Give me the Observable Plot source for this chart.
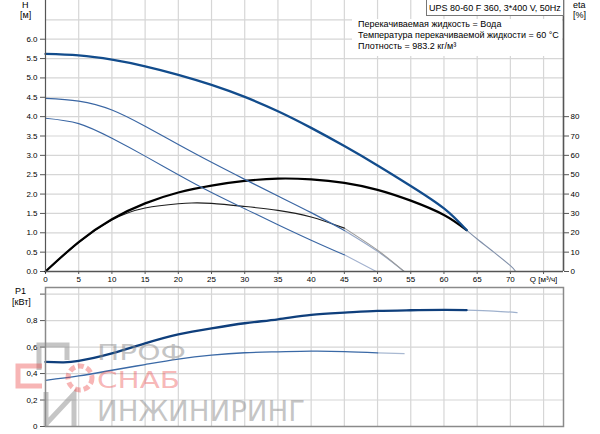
<!DOCTYPE html>
<html><head><meta charset="utf-8">
<script src="https://cdn.jsdelivr.net/npm/d3@7"></script>
<script src="https://cdn.jsdelivr.net/npm/@observablehq/plot@0.6"></script>
<style>
body{margin:0;background:#fff;font-family:"Liberation Sans",Arial,sans-serif;}
#wrap{position:relative;width:600px;height:434px;overflow:hidden;background:#fff}
#topc{position:absolute;left:0;top:0}
#botc{position:absolute;left:0;top:284px}
.lbl{position:absolute;font-size:9px;color:#000;line-height:11px;white-space:nowrap}
#title{position:absolute;left:426px;top:-1px;width:136px;height:15px;border:1px solid #777;background:#fff;font-size:9px;line-height:16px;text-align:center;white-space:nowrap}
#info{position:absolute;left:352px;top:19px;width:210px;height:37px;background:#fff;font-size:9px;line-height:11px;padding-left:6px;padding-top:0px;box-sizing:border-box;white-space:nowrap}
#wm{position:absolute;left:0;top:0;pointer-events:none}
</style></head><body><div id="wrap"><div id="topc"></div><div id="botc"></div></div>
<script>
// ---- data ----
const qTicks = [0,5,10,15,20,25,30,35,40,45,50,55,60,65,70,75];
const hTicks = [0,0.5,1,1.5,2,2.5,3,3.5,4,4.5,5,5.5,6];
const hGrid = [0.5,1,1.5,2,2.5,3,3.5,4,4.5,5,5.5,6,6.5];
const etaTicks = [0,10,20,30,40,50,60,70,80];
const pTicks = [0,0.2,0.4,0.6,0.8,1.0];

// H curves (Q in m3/h, H in m)
const q1 = [0,5,10,15,20,25,30,35,40,45,50,55,60,63.4];
const h1 = [5.62,5.58,5.47,5.30,5.08,4.82,4.51,4.14,3.71,3.24,2.74,2.21,1.63,1.07];
const q1x = [63.4,65,67.5,70,70.8];
const h1x = [1.07,0.84,0.50,0.15,0];
const q2 = [0,5,10,15,20,25,30,35,40,45];
const h2 = [4.47,4.40,4.17,3.75,3.28,2.82,2.38,1.95,1.52,1.06];
const q2x = [45,50,54];
const h2x = [1.06,0.52,0];
const q3 = [0,5,10,15,20,25,30,35,40,45];
const h3 = [3.96,3.82,3.44,2.98,2.50,2.04,1.62,1.21,0.81,0.43];
const q3x = [45,49.8];
const h3x = [0.43,0];

// efficiency curves (eta, %)
const qe1 = [0,5,10,15,20,25,30,35,40,45,50,55,60,63.4];
const e1 = [0,15.2,27,35.2,40.8,44.4,46.8,48,47.6,45.8,42.2,36.6,29.2,21.4];
const qe2 = [0,5,10,15,20,22,25,30,35,40,45];
const e2 = [0,15,26.6,32.8,35,35.4,35.2,33.6,31.6,28.2,22.4];
const qe2x = [45,50,54];
const e2x = [22.4,11,0];

// power curves (P1, kW)
const qp1 = [0,2.5,5,10,15,20,25,30,35,40,45,50,55,60,63.4];
const p1 = [0.488,0.485,0.495,0.552,0.628,0.696,0.742,0.780,0.810,0.843,0.860,0.873,0.878,0.881,0.879];
const qp1x = [63.4,67.5,71];
const p1x = [0.879,0.872,0.860];
const qp2 = [0,5,10,15,20,25,30,35,40,45,50];
const p2 = [0.349,0.382,0.425,0.468,0.509,0.539,0.557,0.564,0.569,0.566,0.556];
const qp2x = [50,54];
const p2x = [0.556,0.550];

const titleText = "UPS 80-60 F 360, 3*400 V, 50Hz";
const infoLines = ["Перекачиваемая жидкость = Вода","Температура перекачиваемой жидкости = 60 °C","Плотность = 983.2 кг/м³"];

// ---- build ----
const rows = (qs, vs, k=1) => qs.map((q,i)=>({q, v: vs[i]*k}));
const E = 1/20; // eta% -> H axis units
const font = "'Liberation Sans', Arial, sans-serif";
const axisCol = "#555";
const gridCol = "#d6d6d6";
const curve = "natural";

const topPlot = Plot.plot({
  width:600, height:284, marginLeft:45, marginRight:37, marginTop:0, marginBottom:13,
  style:{fontFamily:font, fontSize:"8px", color:"#000", background:"transparent", overflow:"visible"},
  x:{domain:[0,78]},
  y:{domain:[0,7]},
  marks:[
    Plot.gridX(qTicks.slice(1), {stroke:gridCol, strokeOpacity:1, strokeWidth:1.2}),
    Plot.gridY(hGrid, {stroke:gridCol, strokeOpacity:1, strokeWidth:1.2}),
    Plot.axisX(qTicks, {tickSize:3, tickPadding:2, stroke:axisCol, fill:"#000", tickFormat:d=> d===75 ? "Q [м³/ч]" : String(d), label:null}),
    Plot.axisY(hTicks, {tickSize:5, tickPadding:3, stroke:axisCol, fill:"#000", tickFormat:d3.format(".1f"), label:null}),
    Plot.axisY(etaTicks.map(e=>e*E), {anchor:"right", tickSize:5, tickPadding:2, stroke:axisCol, fill:"#000", tickFormat:d=>String(Math.round(d/E)), label:null}),
    // light continuations
    Plot.line(rows(q1x,h1x), {x:"q", y:"v", stroke:"#8190aa", strokeWidth:1.1, curve}),
    Plot.line(rows(q2x,h2x), {x:"q", y:"v", stroke:"#94a6c6", strokeWidth:1.1, curve}),
    Plot.line(rows(q3x,h3x), {x:"q", y:"v", stroke:"#a3b2cf", strokeWidth:1.1, curve}),
    Plot.line(rows(qe2x,e2x,E), {x:"q", y:"v", stroke:"#9a9a9a", strokeWidth:1.1, curve}),
    // eta curves
    Plot.line(rows(qe2,e2,E), {x:"q", y:"v", stroke:"#1e1e1e", strokeWidth:1.1, curve}),
    Plot.line(rows(qe1,e1,E), {x:"q", y:"v", stroke:"#000", strokeWidth:2.2, curve}),
    // H curves
    Plot.line(rows(q3,h3), {x:"q", y:"v", stroke:"#3a66a3", strokeWidth:1.1, curve}),
    Plot.line(rows(q2,h2), {x:"q", y:"v", stroke:"#3a66a3", strokeWidth:1.2, curve}),
    Plot.line(rows(q1,h1), {x:"q", y:"v", stroke:"#124c8c", strokeWidth:2.3, curve}),
    Plot.ruleY([0], {stroke:axisCol, strokeWidth:1.5}),
    Plot.ruleX([0], {stroke:axisCol, strokeWidth:1.2}),
    Plot.ruleX([78], {stroke:axisCol, strokeWidth:1.6})
  ]
});
document.getElementById("topc").appendChild(topPlot);

const botPlot = Plot.plot({
  width:600, height:150, marginLeft:45, marginRight:37, marginTop:3, marginBottom:8,
  style:{fontFamily:font, fontSize:"8px", color:"#000", background:"transparent", overflow:"visible"},
  x:{domain:[0,78], axis:null},
  y:{domain:[0,1.05]},
  marks:[
    Plot.gridX(qTicks.slice(1), {stroke:gridCol, strokeOpacity:1, strokeWidth:1.2}),
    Plot.gridY(pTicks.slice(1), {stroke:gridCol, strokeOpacity:1, strokeWidth:1.2}),
    Plot.axisY(pTicks, {tickSize:5, tickPadding:3, stroke:axisCol, fill:"#000", label:null,
      tickFormat:d=> d===0 ? "0" : (d>=1 ? "" : d.toFixed(1).replace(".",","))}),
    Plot.line(rows(qp1x,p1x), {x:"q", y:"v", stroke:"#9fb1cd", strokeWidth:1.3, curve}),
    Plot.line(rows(qp2x,p2x), {x:"q", y:"v", stroke:"#a9b9d2", strokeWidth:1.2, curve}),
    Plot.line(rows(qp2,p2), {x:"q", y:"v", stroke:"#3a69a6", strokeWidth:1.3, curve}),
    Plot.line(rows(qp1,p1), {x:"q", y:"v", stroke:"#0f3f7c", strokeWidth:2.3, curve}),
    Plot.frame({stroke:"#8a8a8a", strokeWidth:1.5})
  ]
});
document.getElementById("botc").appendChild(botPlot);

// ---- overlay texts ----
const wrap = document.getElementById("wrap");
function addLbl(html, x, y){
  const d = document.createElement("div");
  d.className = "lbl"; d.innerHTML = html;
  d.style.left = x+"px"; d.style.top = y+"px";
  wrap.appendChild(d);
}
addLbl("H", 22, 0);
addLbl("[м]", 20, 10);
addLbl("eta", 573, 0);
addLbl("[%]", 573, 10);
addLbl("P1", 15, 286);
addLbl("[кВт]", 12, 297);
const t = document.createElement("div"); t.id="title"; t.textContent = titleText; wrap.appendChild(t);
const inf = document.createElement("div"); inf.id="info"; inf.innerHTML = infoLines.join("<br>"); wrap.appendChild(inf);

// ---- watermark ----
const wm = d3.select(wrap).append("svg").attr("id","wm").attr("width",600).attr("height",434);
const gray = "rgba(140,140,140,0.5)", red = "rgba(235,70,70,0.4)";
wm.append("path").attr("d","M39,370 V345 H67 V360").attr("fill","none").attr("stroke",gray).attr("stroke-width",5);
wm.append("path").attr("d","M42,366 H18 V386 H42").attr("fill","none").attr("stroke",red).attr("stroke-width",5);
wm.append("path").attr("d","M46,392 V426 M46,424 L74,394 V426").attr("fill","none").attr("stroke",gray).attr("stroke-width",5);
wm.append("circle").attr("cx",80).attr("cy",378).attr("r",12).attr("fill","none").attr("stroke",red).attr("stroke-width",5).attr("stroke-dasharray","6 3");
const wt = (txt,x,y,len,size,col)=> wm.append("text").attr("x",x).attr("y",y).attr("font-family","'DejaVu Sans Condensed','DejaVu Sans',sans-serif")
  .attr("font-size",size).attr("textLength",len).attr("lengthAdjust","spacingAndGlyphs").attr("fill",col).text(txt);
wt("ПРОФ",97,360,89,22,gray);
wt("СНАБ",97,388,83,23,red);
wt("ИНЖИНИРИНГ",97,421,208,29,gray);
</script></body></html>
